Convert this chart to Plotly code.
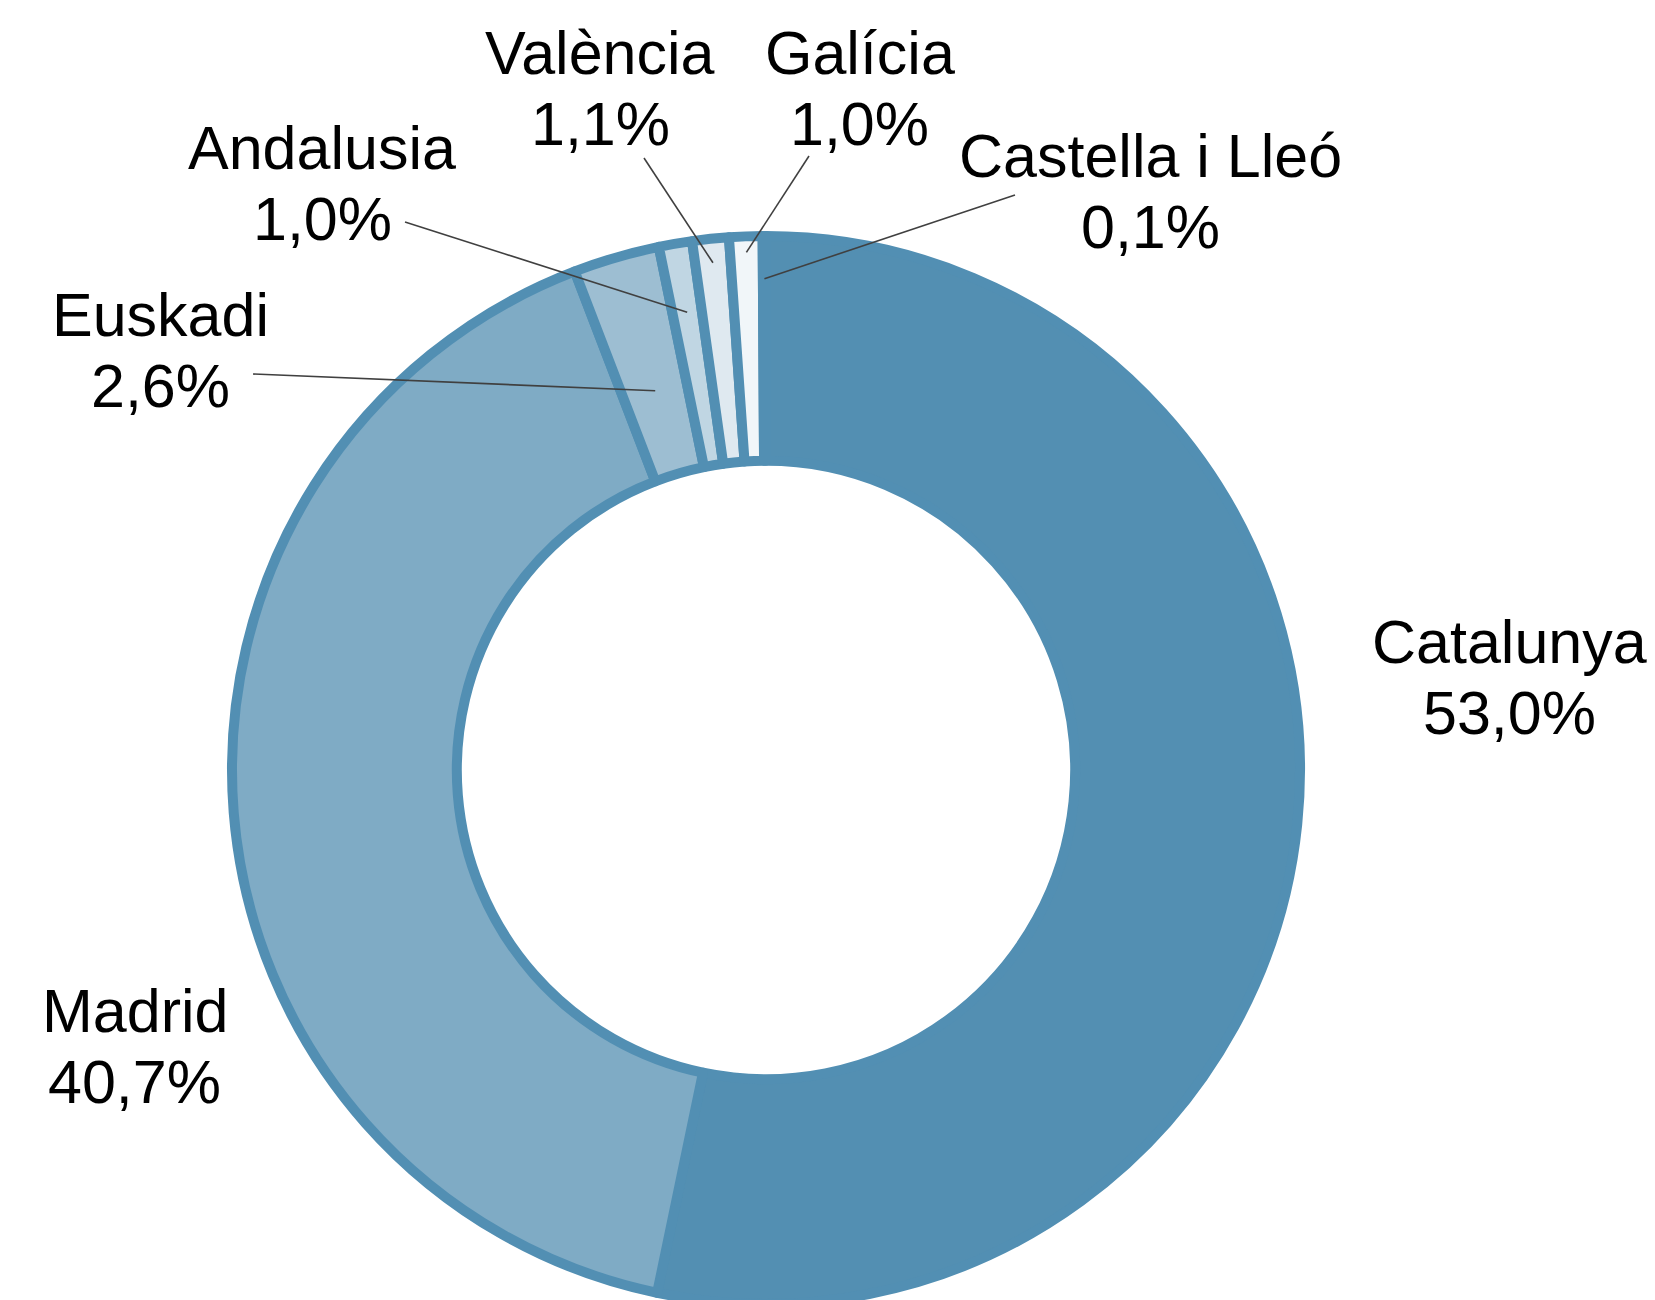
import math
import plotly.graph_objects as go

# ---- data ----
regions = ["Catalunya", "Madrid", "Euskadi", "Andalusia", "València", "Galícia", "Castella i Lleó"]
shares = [53.0, 40.7, 2.6, 1.0, 1.1, 1.0, 0.1]
share_labels = ["53,0%", "40,7%", "2,6%", "1,0%", "1,1%", "1,0%", "0,1%"]

# ---- style ----
colors = ["#538FB2", "#7FABC5", "#9DBED2", "#C0D6E3", "#DFE9F0", "#F1F6F9", "#FFFFFF"]
W, H = 1655, 1300
OFF = 8                              # page body margin
CX, CY, R = 766 - OFF, 770 - OFF, 534   # pixel geometry of the donut (in figure px)
HOLE = 0.579
FONT = "Liberation Sans, Arial, sans-serif"
FS = 61

# label positions (page pixels, text centres)
label_pos = {
    "Catalunya": (1509, 642),
    "Madrid": (135, 1011),
    "Euskadi": (160, 315),
    "Andalusia": (322, 148),
    "València": (600, 53),
    "Galícia": (860, 53),
    "Castella i Lleó": (1150, 156),
}
LINE_GAP = 71
leaders = {  # start of leader line (page pixels), radial fraction of end point
    "Euskadi": ((253, 374), 0.74),
    "Andalusia": ((405, 222), 0.87),
    "València": ((644, 158), 0.955),
    "Galícia": ((809, 156), 0.97),
    "Castella i Lleó": ((1015, 195), 0.92),
}


def px2paper(x, y):
    return x / W, 1 - y / H


fig = go.Figure(go.Pie(
    labels=regions,
    values=shares,
    sort=False,
    direction="clockwise",
    rotation=0,
    hole=HOLE,
    textinfo="none",
    hoverinfo="label+percent",
    marker=dict(colors=colors, line=dict(color="#528FB3", width=10)),
    domain=dict(x=[(CX - R) / W, (CX + R) / W], y=[(H - CY - R) / H, (H - CY + R) / H]),
    showlegend=False,
))

annotations = []
shapes = []
total = sum(shares)
cum = 0.0
for name, v, pl in zip(regions, shares, share_labels):
    mid = (cum + v / 2) / total
    cum += v
    lx, ly = label_pos[name]
    lx, ly = lx - OFF, ly - OFF
    for txt, yy in ((name, ly), (pl, ly + LINE_GAP)):
        px, py = px2paper(lx, yy)
        annotations.append(dict(x=px, y=py, xref="paper", yref="paper", text=txt,
                                showarrow=False, xanchor="center", yanchor="middle",
                                font=dict(family=FONT, size=FS, color="#000000")))
    if name in leaders:
        (sx, sy), frac = leaders[name]
        th = 2 * math.pi * mid
        ex = CX + frac * R * math.sin(th)
        ey = CY - frac * R * math.cos(th)
        x0, y0 = px2paper(sx - OFF, sy - OFF)
        x1, y1 = px2paper(ex, ey)
        shapes.append(dict(type="line", xref="paper", yref="paper", x0=x0, y0=y0, x1=x1, y1=y1,
                           line=dict(color="#404040", width=1.6), layer="above"))

fig.update_layout(
    width=W, height=H,
    margin=dict(l=0, r=0, t=0, b=0),
    paper_bgcolor="white", plot_bgcolor="white",
    annotations=annotations, shapes=shapes,
)

fig.write_html("out.html")
